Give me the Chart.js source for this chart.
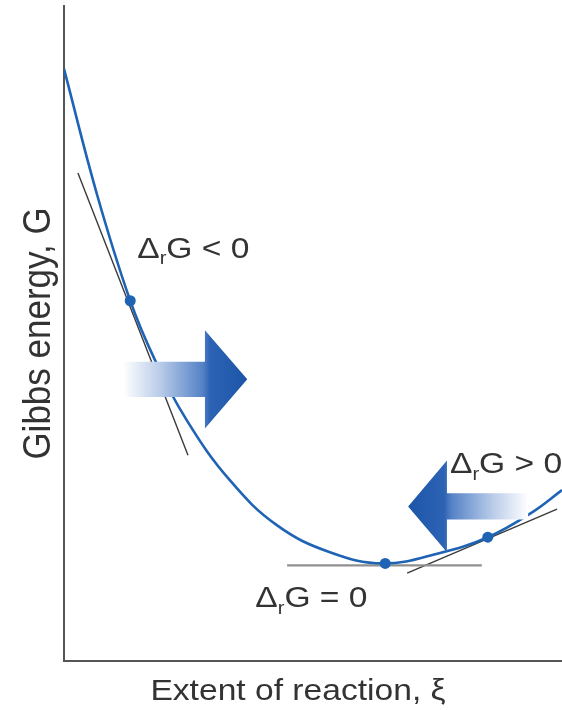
<!DOCTYPE html>
<html lang="en">
<head>
<meta charset="UTF-8">
<title>Gibbs energy vs extent of reaction</title>
<script src="https://cdn.jsdelivr.net/npm/chart.js"></script>
<style>
  body { margin: 0; background: #fff; }
  .chart-box { width: 562px; height: 710px; position: relative; }
</style>
</head>
<body>
<div class="chart-box"><canvas id="gibbsChart"></canvas></div>
<script>
// G against extent of reaction (both axes 0-100, no units)
const extent = [0, 6.6, 13.3, 18.3, 24.7, 33.3, 42.8, 53.4, 64.1, 75.5, 85.1, 94.0, 100];
const gibbs  = [90.4, 71.3, 55.0, 45.9, 36.7, 27.6, 20.7, 16.6, 14.9, 16.5, 18.9, 22.7, 26.1];

// the three marked points on the curve
const markX = [13.3, 64.5, 85.1];
const markY = [55.0, 14.9, 18.9];

// tangent lines at those points
const tanLeftX  = [2.8, 24.9];
const tanLeftY  = [74.5, 31.4];
const tanMinX   = [44.8, 83.9];
const tanMinY   = [14.6, 14.6];
const tanRightX = [68.9, 99.0];
const tanRightY = [13.4, 23.2];

// labels next to the tangents
const deltaLabels = ['<', '=', '>'];
const xTitle = 'Extent of reaction, \u03BE';
const yTitle = 'Gibbs energy, G';

const blue = '#1f63b5';
const textCol = '#333';
const fontFam = '"Liberation Sans", Arial, sans-serif';

function pts(xs, ys) {
    return xs.map((x, i) => ({ x: x, y: ys[i] }));
}

// the source figure is a little stretched sideways, so text is too
function stretchedText(ctx, txt, x, y, size, sx, sy, rot, align) {
    ctx.save();
    ctx.translate(x, y);
    if (rot) ctx.rotate(rot);
    ctx.scale(sx, sy);
    ctx.font = size + 'px ' + fontFam;
    ctx.textAlign = align || 'left';
    ctx.fillText(txt, 0, 0);
    const w = ctx.measureText(txt).width;
    ctx.restore();
    return w * sx;
}

// arrows, Δr G labels and axis titles
const annotations = {
    id: 'annotations',
    afterDatasetsDraw(chart, args, opts) {
        const ctx = chart.ctx;
        const area = chart.chartArea;
        const sx = chart.scales.x, sy = chart.scales.y;
        const X = v => sx.getPixelForValue(v);
        const Y = v => sy.getPixelForValue(v);

        opts.arrows.forEach(a => {
            const tail = X(a.tail), base = X(a.base), tip = X(a.tip);
            const cy = Y(a.y);
            const bh = Math.abs(Y(a.y + a.body) - cy);
            const hh = Math.abs(Y(a.y + a.head) - cy);
            const g = ctx.createLinearGradient(tail, 0, tip, 0);
            g.addColorStop(0, 'rgba(255,255,255,1)');
            g.addColorStop(0.3, '#b8cbe8');
            g.addColorStop(0.64, '#5582c6');
            g.addColorStop(0.7, '#2d63b4');
            g.addColorStop(1, '#1c55a9');
            ctx.save();
            ctx.fillStyle = g;
            ctx.beginPath();
            ctx.moveTo(tail, cy - bh);
            ctx.lineTo(base, cy - bh);
            ctx.lineTo(base, cy - hh);
            ctx.lineTo(tip, cy);
            ctx.lineTo(base, cy + hh);
            ctx.lineTo(base, cy + bh);
            ctx.lineTo(tail, cy + bh);
            ctx.closePath();
            ctx.fill();
            ctx.restore();
        });

        ctx.save();
        ctx.fillStyle = textCol;
        ctx.textBaseline = 'alphabetic';
        const s = opts.size, k = opts.stretch;
        opts.labels.forEach((lb, i) => {
            let x = X(lb.x);
            const y = Y(lb.y);
            x += stretchedText(ctx, '\u0394', x, y, s, k, 1);
            x += stretchedText(ctx, 'r', x, y + s * 0.22, Math.round(s * 0.6), k, 1);
            stretchedText(ctx, 'G ' + deltaLabels[i] + ' 0', x, y, s, k, 1);
        });

        // axis titles
        const midX = (area.left + area.right) / 2 - 15;
        stretchedText(ctx, xTitle, midX, chart.height - 10, opts.titleSize, k, 1, 0, 'center');
        const midY = (area.top + area.bottom) / 2;
        stretchedText(ctx, yTitle, area.left - 14, midY, opts.yTitleSize, 1, 1.1, -Math.PI / 2, 'center');
        ctx.restore();
    }
};

const ctx = document.getElementById('gibbsChart').getContext('2d');
const gibbsChart = new Chart(ctx, {
    type: 'line',
    data: {
        datasets: [
            {
                label: 'marks',
                data: pts(markX, markY),
                showLine: false,
                pointRadius: 5.5,
                pointBackgroundColor: blue,
                pointBorderWidth: 0,
                order: 0
            },
            {
                label: 'G',
                data: pts(extent, gibbs),
                borderColor: blue,
                borderWidth: 2.6,
                pointRadius: 0,
                tension: 0.4,
                order: 1
            },
            {
                label: 'tangent left',
                data: pts(tanLeftX, tanLeftY),
                borderColor: '#3a3a3a',
                borderWidth: 1.4,
                pointRadius: 0,
                order: 2
            },
            {
                label: 'tangent min',
                data: pts(tanMinX, tanMinY),
                borderColor: '#8f8f8f',
                borderWidth: 2.4,
                pointRadius: 0,
                order: 2
            },
            {
                label: 'tangent right',
                data: pts(tanRightX, tanRightY),
                borderColor: '#3a3a3a',
                borderWidth: 1.4,
                pointRadius: 0,
                order: 2
            }
        ]
    },
    options: {
        responsive: true,
        maintainAspectRatio: false,
        animation: false,
        layout: { autoPadding: false, padding: { top: 6, right: 0, bottom: 49, left: 64 } },
        plugins: {
            legend: { display: false },
            tooltip: { enabled: false },
            annotations: {
                size: 30,
                stretch: 1.12,
                titleSize: 30,
                yTitleSize: 35,
                arrows: [
                    { tail: 11.9, base: 28.3, tip: 36.8, y: 43.0, body: 2.7, head: 7.5 },
                    { tail: 93.2, base: 76.9, tip: 69.1, y: 23.6, body: 2.0, head: 7.0 }
                ],
                labels: [
                    { x: 14.7, y: 61.6 },
                    { x: 38.4, y: 8.2 },
                    { x: 77.5, y: 28.7 }
                ]
            }
        },
        scales: {
            x: {
                type: 'linear',
                min: 0,
                max: 100,
                grid: { display: false, drawTicks: false },
                ticks: { display: false },
                border: { display: true, color: '#555', width: 2 }
            },
            y: {
                type: 'linear',
                min: 0,
                max: 100,
                grid: { display: false, drawTicks: false },
                ticks: { display: false },
                border: { display: true, color: '#555', width: 2 }
            }
        }
    },
    plugins: [annotations]
});
</script>
</body>
</html>
